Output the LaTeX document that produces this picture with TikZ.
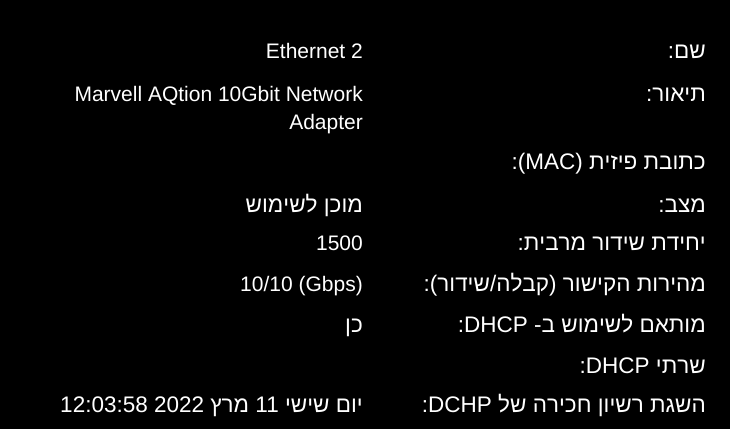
\documentclass[tikz,border=0pt]{standalone}
\usepackage{fontspec}
\setmainfont{Liberation Sans}
\TeXXeTstate=1
\tikzset{lbl/.style={anchor=base east,text=white,inner sep=0pt,font=\fontsize{21}{24}\selectfont}}
\newcommand{\rl}[1]{{\fontsize{22.5}{24}\selectfont\beginR #1\endR}}
\begin{document}
\begin{tikzpicture}[x=1pt,y=-1pt]
\fill[black] (0,0) rectangle (730,429);
\useasboundingbox (0,0) rectangle (730,429);
% labels (right column)
\node[lbl] (l1) at (706,58) {\rl{שם:}};
\node[lbl] (l2) at (706,101) {\rl{תיאור:}};
\node[lbl] (l3) at (706,169) {\rl{כתובת פיזית \beginL(MAC)\endL:}};
\node[lbl] (l4) at (706,212) {\rl{מצב:}};
\node[lbl] (l5) at (706,250) {\rl{יחידת שידור מרבית:}};
\node[lbl] (l6) at (706,291) {\rl{מהירות הקישור (קבלה/שידור):}};
\node[lbl] (l7) at (706,332) {\rl{מותאם לשימוש ב- \beginL DHCP\endL:}};
\node[lbl] (l8) at (706,373) {\rl{שרתי \beginL DHCP\endL:}};
\node[lbl] (l9) at (706,412) {\rl{השגת רשיון חכירה של \beginL DCHP\endL:}};
% values (left column)
\node[lbl] (v1) at (363,58) {Ethernet 2};
\node[lbl] (v2) at (363,101) {Marvell AQtion 10Gbit Network};
\node[lbl] (v2b) at (363,129) {Adapter};
\node[lbl] (v4) at (363,212) {\rl{מוכן לשימוש}};
\node[lbl] (v5) at (363,250) {1500};
\node[lbl] (v6) at (363,291) {10/10 (Gbps)};
\node[lbl] (v7) at (363,332) {\rl{כן}};
\node[lbl] (v9) at (363,412) {\rl{יום שישי \beginL 11\endL{} מרץ \beginL 2022\endL{} \beginL 12:03:58\endL}};
\end{tikzpicture}
\end{document}
